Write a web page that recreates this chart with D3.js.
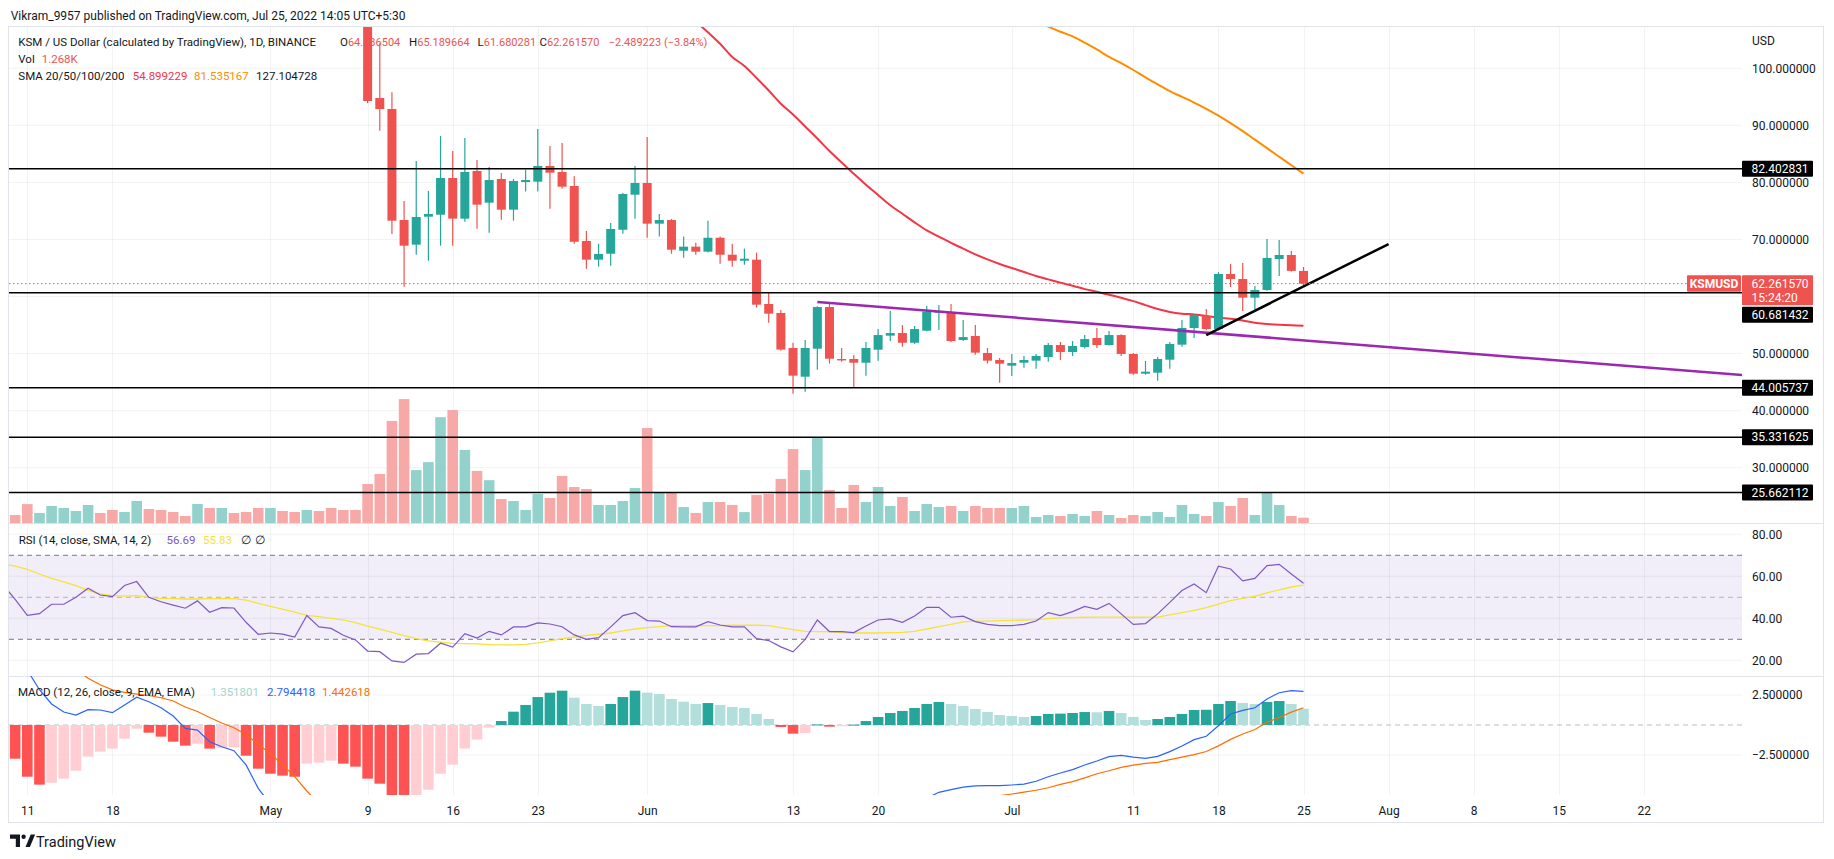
<!DOCTYPE html>
<html><head><meta charset="utf-8">
<script src="https://cdn.jsdelivr.net/npm/d3@7"></script>
<style>
html,body{margin:0;padding:0;background:#fff;}
svg{display:block;font-family:Roboto,"Liberation Sans",sans-serif;}
</style></head><body>
<svg id="c" width="1834" height="859"></svg>
<script>
// ---------------- DATA ----------------
const firstDay = "2022-04-09";           // first day of the indicator series
const volStart = "2022-04-10";           // first volume bar
const candleStart = "2022-05-09";        // first candle visible in the price pane
// direction of the (off-screen) candles Apr 10 - May 8, used for volume colours
const hiddenDir = ["d","d","u","u","u","u","u","d","d","u","u","d","d","d","d","u","d","u","d","d","d",
                   "u","d","d","u","d","d","d","d"];
const open = [110.0,94.79,92.87,73.41,69.09,73.99,74.34,80.77,73.65,82.0,76.45,80.6,75.22,80.07,80.13,82.88,81.83,79.37,69.73,66.46,67.5,71.7,77.85,
  79.9,72.77,73.41,68.03,68.74,67.86,70.3,67.33,66.28,66.46,58.69,57.12,50.98,45.95,50.86,58.16,49.05,49.05,48.4,50.68,53.14,53.6,51.9,54.01,57.17,57.29,52.38,53.08,50.1,48.88,
  47.88,48.4,48.76,49.4,51.5,50.28,51.15,52.73,51.5,53.25,49.93,46.48,46.65,48.93,51.56,54.48,56.59,54.31,63.95,63.07,59.8,61.15,66.58,67.28,64.486504];
const high = [111.0,104.4,95.8,76.74,83.75,78.5,88.14,85.5,87.78,83.93,82.7,81.65,80.6,82.2,89.36,86.38,86.9,81.1,71.49,69.26,72.9,78.15,82.88,
  87.96,74.47,73.6,70.5,69.44,73.3,70.5,69.26,68.4,67.7,60.67,57.64,51.91,52.38,58.3,58.92,50.98,49.75,52.03,54.3,57.47,55.01,54.84,58.34,58.52,58.69,55.9,55.0,50.98,49.23,
  49.93,49.58,49.93,51.86,52.03,52.2,53.25,54.48,53.96,53.4,50.1,48.7,49.4,52.03,55.9,56.94,57.82,64.3,65.7,65.88,61.85,70.1,69.9,67.98,65.189664];
const low = [93.87,89.06,70.96,61.73,67.33,66.28,68.91,68.91,73.12,71.89,71.19,73.47,73.3,78.4,78.4,75.4,78.9,69.26,64.88,65.23,65.4,71.0,73.64,
  70.3,70.5,67.5,66.8,67.33,67.7,65.76,65.23,65.58,58.04,55.42,50.5,42.97,43.33,47.18,48.23,48.58,44.15,46.13,48.76,52.2,51.2,51.7,53.9,54.14,52.0,52.2,49.8,48.23,44.9,
  46.07,47.53,47.35,48.58,48.88,49.58,50.9,50.98,51.4,49.58,46.3,46.3,45.25,47.35,51.2,52.73,54.1,54.1,61.67,57.47,57.64,61.0,63.6,64.4,61.680281];
const close = [94.27,92.86,73.29,68.91,73.94,74.47,80.77,73.65,81.83,76.1,80.42,75.22,80.25,80.42,82.88,81.7,79.25,69.6,66.46,67.46,71.84,77.97,79.9,
  72.77,73.41,68.21,68.74,67.86,70.3,67.33,66.28,66.63,58.57,57.0,50.7,46.13,50.98,58.16,49.1,48.8,48.4,50.98,53.25,53.6,51.9,54.3,57.34,57.47,52.2,52.9,50.16,48.76,48.23,
  48.35,48.88,49.58,51.5,50.28,51.33,52.55,51.5,53.25,49.93,46.48,46.83,49.05,51.68,54.48,56.76,54.31,63.95,63.07,59.8,61.15,66.76,67.28,64.49,62.261570];
// volume in thousands, from Apr 10
const volume = [1.9,4.5,2.4,4.05,3.57,2.86,4.29,2.38,3.1,2.62,5.24,3.33,3.1,2.62,1.67,4.52,3.57,3.57,2.38,2.62,3.57,
  3.57,2.86,2.62,3.1,2.86,3.57,3.1,3.1,9.29,11.67,24.3,29.5,12.6,14.5,25.2,26.9,17.4,12.4,10.2,5.7,5.24,3.1,6.9,5.95,11.2,8.57,8.1,4.29,4.29,5.24,8.33,
  22.6,7.14,7.14,3.8,2.4,5.0,5.0,4.3,2.6,6.7,6.9,10.5,17.6,12.6,20.3,7.86,3.57,9.05,5.0,8.57,4.05,6.2,2.86,4.52,3.8,4.05,2.86,4.05,3.57,3.57,
  3.57,4.05,1.43,1.9,1.67,2.14,1.67,2.86,1.9,1.19,1.9,1.67,2.62,1.43,4.29,2.14,1.67,5.0,4.05,5.95,1.9,7.14,4.29,1.67,1.268];
// SMA lines (only the part inside the pane)
const smaRedStart = "2022-06-04";
const smaRed = [110.0,108.2,106.3,104.3,102.0,100.4,98.3,96.1,93.8,91.9,89.8,87.7,85.5,83.5,81.5,79.6,77.8,76.0,74.5,73.0,71.6,70.5,69.4,68.4,67.4,66.5,65.7,
  65.0,64.3,63.6,63.0,62.4,61.9,61.3,60.85,60.3,59.8,59.2,58.5,57.8,57.3,57.0,56.85,56.6,56.3,56.1,55.8,55.4,55.2,55.05,54.95,54.899229];
const smaOrangeStart = "2022-07-01";
const smaOrange = [110.2,109.2,108.2,107.3,106.4,105.6,104.5,103.3,102.0,100.9,99.7,98.4,97.2,96.0,95.0,94.0,92.9,91.7,90.4,89.0,87.5,86.0,84.5,83.0,81.535167];
// RSI and its SMA, from Apr 9
const rsi = [56.0,49.0,41.4,42.2,46.7,46.7,50.0,54.3,51.1,50.3,55.6,57.5,50.0,47.9,46.3,44.8,48.3,42.9,45.1,44.9,38.1,32.4,
  33.0,32.5,31.1,41.3,35.9,35.2,31.9,29.7,24.4,24.1,19.7,19.0,22.9,23.2,28.1,26.3,32.7,30.6,33.8,32.1,35.9,35.9,37.8,37.3,36.0,32.1,30.0,30.8,35.9,41.3,42.7,
  38.9,38.7,36.0,35.9,35.9,38.4,36.8,35.9,35.9,30.3,29.4,26.4,24.0,30.0,39.2,33.7,33.7,33.2,36.3,39.2,39.7,38.1,41.1,45.2,45.2,40.5,41.0,38.4,37.1,36.5,
  36.5,37.1,38.7,42.7,41.3,43.2,45.7,44.3,47.1,42.1,37.1,37.5,42.1,47.6,53.2,56.3,52.2,64.8,63.5,57.8,59.0,65.1,65.7,61.1,56.69];
const rsiSma = [66.0,64.8,63.3,61.1,59.0,57.3,55.6,53.3,51.6,50.8,50.6,50.8,50.0,49.5,49.4,49.2,49.2,49.4,49.4,49.4,48.7,47.1,
  45.7,44.4,42.9,41.4,40.8,40.0,39.2,37.9,36.3,34.9,33.3,31.7,30.3,29.2,28.6,28.1,27.9,27.8,27.5,27.3,27.3,27.6,28.3,29.2,30.3,31.1,31.9,32.4,33.0,34.0,34.9,
  35.6,36.0,36.5,36.5,36.5,36.5,36.5,36.7,36.7,36.7,36.5,35.6,34.6,33.8,33.7,33.7,33.2,33.0,33.0,33.0,33.2,33.3,33.8,34.9,36.0,37.1,38.3,38.7,38.7,38.9,
  39.0,39.2,39.4,39.8,40.2,40.3,40.5,40.6,40.6,40.6,40.5,40.5,40.6,41.6,42.7,43.8,45.1,46.7,48.4,49.5,50.5,52.1,53.5,54.9,55.83];
// MACD histogram, from Apr 9
const macdHist = [-2.0,-2.81,-4.31,-4.97,-4.81,-4.47,-3.81,-2.64,-2.22,-1.97,-1.14,-0.31,-0.64,-0.97,-1.39,-1.72,-1.56,-1.97,-1.89,-1.87,-2.56,-3.64,
  -4.06,-4.22,-4.31,-3.22,-3.14,-2.97,-3.22,-3.47,-4.47,-4.89,-6.5,-7.0,-6.2,-5.39,-4.06,-3.31,-1.97,-1.22,-0.22,0.33,1.11,1.67,2.33,2.69,2.86,2.28,1.75,1.58,1.75,2.33,2.86,
  2.69,2.58,2.17,1.94,1.75,1.83,1.67,1.5,1.42,0.92,0.5,-0.17,-0.72,-0.67,0.05,-0.14,-0.10,0.03,0.33,0.67,1.0,1.17,1.42,1.75,1.92,1.75,1.58,1.33,1.08,0.83,
  0.75,0.67,0.75,0.92,0.95,1.0,1.08,1.06,1.17,1.0,0.67,0.42,0.5,0.67,0.92,1.25,1.27,1.75,2.0,1.83,1.75,1.92,2.0,1.75,1.351801];
// MACD and signal lines: only the stretches that pass through the pane
const macdA_start = "2022-04-09";
const macdA = [7.5,6.4,4.57,2.94,1.75,1.08,0.83,1.28,1.25,1.03,1.67,2.31,1.94,1.44,0.75,-0.28,-0.42,-1.39,-1.81,-2.14,-3.33,-5.28,-6.6];
const macdB_start = "2022-06-24";
const macdB = [-6.1,-5.61,-5.39,-5.17,-5.08,-5.06,-5.06,
  -5.0,-4.92,-4.69,-4.31,-4.0,-3.72,-3.33,-3.0,-2.64,-2.53,-2.67,-2.78,-2.61,-2.22,-1.75,-1.22,-0.94,-0.06,0.92,1.22,1.44,2.17,2.69,2.86,2.794418];
const signalA_start = "2022-04-09";
const signalA = [9.5,9.2,8.88,7.91,6.56,5.55,4.64,3.9,3.35,2.93,2.72,2.58,2.46,2.27,2.0,1.5,1.12,0.62,0.17,-0.23,-0.8,-1.6,
  -2.39,-3.3,-4.3,-5.5,-6.6];
const signalB_start = "2022-06-29";
const signalB = [-6.05,-5.89,
  -5.75,-5.59,-5.44,-5.23,-4.95,-4.72,-4.41,-4.06,-3.81,-3.53,-3.34,-3.2,-3.11,-2.89,-2.67,-2.47,-2.21,-1.74,-1.2,-0.75,-0.37,0.23,0.63,1.07,1.442618];
// drawings
const levels = [82.402831, 60.681432, 44.005737, 35.331625, 25.662112];
const purpleLine = [["2022-06-15", 59.04], ["2022-08-31", 46.1]];
const blackLine = [["2022-07-17", 53.25], ["2022-08-01", 69.2]];
// ticks
const priceTicks = [30,40,50,60,70,80,90,100];
const rsiTicks = [20,40,60,80];
const rsiBands = [70,50,30];
const macdTicks = [-2.5, 2.5];
const timeTicks = [["2022-04-11","11"],["2022-04-18","18"],["2022-05-01","May"],["2022-05-09","9"],["2022-05-16","16"],["2022-05-23","23"],
  ["2022-06-01","Jun"],["2022-06-13","13"],["2022-06-20","20"],["2022-07-01","Jul"],["2022-07-11","11"],["2022-07-18","18"],["2022-07-25","25"],
  ["2022-08-01","Aug"],["2022-08-08","8"],["2022-08-15","15"],["2022-08-22","22"]];
const lastTime = "15:24:20";

// ---------------- LAYOUT ----------------
const TXT = "#131722", UP = "#26a69a", DN = "#ef5350";
const L = 9, R = 1742, FR = 1823.5;
const main = [27, 523], rsiP = [523, 676], macdP = [676, 795];
const S = d3.utcParse("%Y-%m-%d");
const dayAt = (s, i) => d3.utcDay.offset(S(s), i);

const svg = d3.select("#c");
const x = d3.scaleUtc().domain([S("2022-04-10"), S("2022-07-25")]).range([15.15, 1303.5]);
const yP = d3.scaleLinear().domain([30, 100]).range([467.7, 68.3]);
const yV = d3.scaleLinear().domain([0, 30]).range([523, 397]);
const yR = d3.scaleLinear().domain([20, 80]).range([660.3, 534.3]);
const yM = d3.scaleLinear().domain([-2.5, 2.5]).range([755, 695]);

const defs = svg.append("defs");
function clip(id, y0, y1) {
  defs.append("clipPath").attr("id", id).append("rect").attr("x", L).attr("y", y0).attr("width", R - L).attr("height", y1 - y0);
  return "url(#" + id + ")";
}
const cMain = clip("cm", main[0], main[1]), cRsi = clip("cr", rsiP[0], rsiP[1]), cMacd = clip("cd", macdP[0], macdP[1]);

// frame
svg.append("rect").attr("x", 8.5).attr("y", 26.5).attr("width", FR - 8.5).attr("height", 796).attr("fill", "none").attr("stroke", "#e0e3eb");

// RSI band
svg.append("rect").attr("x", L).attr("width", R - L).attr("y", yR(70)).attr("height", yR(30) - yR(70)).attr("fill", "rgba(126,87,194,0.1)");

// grid
const grid = svg.append("g").attr("stroke", "rgba(42,46,57,0.06)").attr("stroke-width", 1);
timeTicks.forEach(([d]) => {
  const xx = Math.round(x(S(d))) + 0.5;
  grid.append("line").attr("x1", xx).attr("x2", xx).attr("y1", main[0]).attr("y2", macdP[1]);
});
priceTicks.forEach(v => grid.append("line").attr("x1", L).attr("x2", R).attr("y1", yP(v)).attr("y2", yP(v)));
rsiTicks.forEach(v => grid.append("line").attr("x1", L).attr("x2", R).attr("y1", yR(v)).attr("y2", yR(v)));
macdTicks.forEach(v => grid.append("line").attr("x1", L).attr("x2", R).attr("y1", yM(v)).attr("y2", yM(v)));

// pane separators
[rsiP[0], macdP[0]].forEach(y => svg.append("line").attr("x1", L).attr("x2", FR).attr("y1", y + 0.5).attr("y2", y + 0.5).attr("stroke", "#e0e3eb"));

// RSI dashed bands
rsiBands.forEach(v => svg.append("line").attr("x1", L).attr("x2", R).attr("y1", yR(v)).attr("y2", yR(v))
  .attr("stroke", "#787b86").attr("stroke-opacity", v === 50 ? 0.5 : 1).attr("stroke-dasharray", "5,4"));
// MACD zero line
svg.append("line").attr("x1", L).attr("x2", R).attr("y1", yM(0)).attr("y2", yM(0))
  .attr("stroke", "#787b86").attr("stroke-opacity", 0.5).attr("stroke-dasharray", "5,4");

// title and legend
svg.append("text").attr("x", 10.7).attr("y", 19.5).attr("font-size", 12).attr("fill", TXT)
  .text("Vikram_9957 published on TradingView.com, Jul 25, 2022 14:05 UTC+5:30");
const lastI = close.length - 1;
const leg1 = svg.append("text").attr("y", 46).attr("font-size", 11.5).attr("fill", TXT);
leg1.append("tspan").attr("x", 18.3).text("KSM / US Dollar (calculated by TradingView), 1D, BINANCE");
[["O", open[lastI], 340], ["H", high[lastI], 409], ["L", low[lastI], 477.5], ["C", close[lastI], 539.5]].forEach(([k, v, xx]) => {
  leg1.append("tspan").attr("x", xx).text(k);
  leg1.append("tspan").attr("fill", DN).attr("font-size", 11).text(v.toFixed(6));
});
leg1.append("tspan").attr("x", 608.7).attr("fill", DN).attr("font-size", 11).text("−2.489223 (−3.84%)");
const leg2 = svg.append("text").attr("y", 63.3).attr("font-size", 11.5).attr("fill", TXT);
leg2.append("tspan").attr("x", 18.3).text("Vol");
leg2.append("tspan").attr("x", 41.7).attr("fill", DN).text(volume[volume.length - 1].toFixed(3) + "K");
const leg3 = svg.append("text").attr("y", 80.3).attr("font-size", 11.5).attr("fill", TXT);
leg3.append("tspan").attr("x", 18.3).text("SMA 20/50/100/200");
leg3.append("tspan").attr("x", 132.7).attr("fill", "#f23645").text(smaRed[smaRed.length - 1].toFixed(6));
leg3.append("tspan").attr("x", 194).attr("fill", "#ff8c00").text(smaOrange[smaOrange.length - 1].toFixed(6));
leg3.append("tspan").attr("x", 256).text("127.104728");

// ---------------- MAIN PANE ----------------
const gm = svg.append("g").attr("clip-path", cMain);
const candles = open.map((o, i) => ({ date: dayAt(candleStart, i), o, h: high[i], l: low[i], c: close[i] }));
const vols = volume.map((v, i) => {
  const up = i < hiddenDir.length ? hiddenDir[i] === "u" : candles[i - hiddenDir.length].c >= candles[i - hiddenDir.length].o;
  return { date: dayAt(volStart, i), v, up };
});
gm.selectAll("rect.vol").data(vols).join("rect").attr("class", "vol")
  .attr("x", d => x(d.date) - 5.3).attr("width", 10.6)
  .attr("y", d => yV(d.v)).attr("height", d => yV(0) - yV(d.v))
  .attr("fill", d => d.up ? "#93d2cc" : "#f7a9a8");

const smaLine = d3.line().x(d => x(d.date)).y(d => yP(d.v)).curve(d3.curveMonotoneX);
gm.append("path").datum(smaRed.map((v, i) => ({ date: dayAt(smaRedStart, i), v })))
  .attr("d", smaLine).attr("fill", "none").attr("stroke", "#f23645").attr("stroke-width", 2);
gm.append("path").datum(smaOrange.map((v, i) => ({ date: dayAt(smaOrangeStart, i), v })))
  .attr("d", smaLine).attr("fill", "none").attr("stroke", "#ff8c00").attr("stroke-width", 2);

const cg = gm.selectAll("g.cd").data(candles).join("g").attr("class", "cd");
cg.append("line").attr("x1", d => x(d.date)).attr("x2", d => x(d.date)).attr("y1", d => yP(d.h)).attr("y2", d => yP(d.l))
  .attr("stroke", d => d.c >= d.o ? UP : DN).attr("stroke-width", 1.2);
cg.append("rect").attr("x", d => x(d.date) - 4.5).attr("width", 9)
  .attr("y", d => yP(Math.max(d.o, d.c))).attr("height", d => Math.max(1, Math.abs(yP(d.o) - yP(d.c))))
  .attr("fill", d => d.c >= d.o ? UP : DN);

levels.forEach(v => gm.append("line").attr("x1", L).attr("x2", R).attr("y1", yP(v)).attr("y2", yP(v)).attr("stroke", "#000").attr("stroke-width", 1.5));
const tl = d3.line().x(d => x(S(d[0]))).y(d => yP(d[1]));
gm.append("path").datum(purpleLine).attr("d", tl).attr("stroke", "#9c27b0").attr("stroke-width", 2.5).attr("fill", "none");
gm.append("path").datum(blackLine).attr("d", tl).attr("stroke", "#000").attr("stroke-width", 2.5).attr("fill", "none");

const pY = yP(close[lastI]);
svg.append("line").attr("x1", L).attr("x2", 1687).attr("y1", pY).attr("y2", pY).attr("stroke", DN).attr("stroke-dasharray", "1.5,2.5");

// ---------------- RSI ----------------
const gr = svg.append("g").attr("clip-path", cRsi);
const ln = (ys) => d3.line().defined(d => d.v != null).x(d => x(d.date)).y(d => ys(d.v));
gr.append("path").datum(rsiSma.map((v, i) => ({ date: dayAt(firstDay, i), v }))).attr("d", ln(yR)).attr("fill", "none").attr("stroke", "#f5e23a").attr("stroke-width", 1.3);
gr.append("path").datum(rsi.map((v, i) => ({ date: dayAt(firstDay, i), v }))).attr("d", ln(yR)).attr("fill", "none").attr("stroke", "#7e57c2").attr("stroke-width", 1.2);
const rh = svg.append("text").attr("y", 543.6).attr("font-size", 11.5).attr("fill", TXT);
rh.append("tspan").attr("x", 18.7).text("RSI (14, close, SMA, 14, 2)");
rh.append("tspan").attr("x", 166.5).attr("fill", "#7e57c2").text(rsi[rsi.length - 1].toFixed(2));
rh.append("tspan").attr("x", 203).attr("fill", "#f5e23a").text(rsiSma[rsiSma.length - 1].toFixed(2));
rh.append("tspan").attr("x", 241).text("∅");
rh.append("tspan").attr("x", 255.4).text("∅");

// ---------------- MACD ----------------
const gd = svg.append("g").attr("clip-path", cMacd);
const hist = macdHist.map((v, i) => {
  const p = i > 0 ? macdHist[i - 1] : v;
  const col = v >= 0 ? (v > p ? "#26a69a" : "#b2dfdb") : (v > p ? "#ffcdd2" : "#ff5252");
  return { date: dayAt(firstDay, i), v, col };
});
gd.selectAll("rect.h").data(hist).join("rect").attr("class", "h")
  .attr("x", d => x(d.date) - 5.3).attr("width", 10.6)
  .attr("y", d => Math.min(yM(0), yM(d.v))).attr("height", d => Math.max(1, Math.abs(yM(d.v) - yM(0))))
  .attr("fill", d => d.col);
[[macdA, macdA_start, "#2962ff"], [macdB, macdB_start, "#2962ff"], [signalA, signalA_start, "#ff6d00"], [signalB, signalB_start, "#ff6d00"]]
  .forEach(([arr, st, col]) => gd.append("path").datum(arr.map((v, i) => ({ date: dayAt(st, i), v }))).attr("d", ln(yM))
    .attr("fill", "none").attr("stroke", col).attr("stroke-width", 1.2));
const mh = svg.append("text").attr("y", 696).attr("font-size", 11.5).attr("fill", TXT);
mh.append("tspan").attr("x", 17.9).text("MACD (12, 26, close, 9, EMA, EMA)");
mh.append("tspan").attr("x", 210.7).attr("fill", "#9fd6d0").text(macdHist[macdHist.length - 1].toFixed(6));
mh.append("tspan").attr("x", 267).attr("fill", "#2962ff").text(macdB[macdB.length - 1].toFixed(6));
mh.append("tspan").attr("x", 322).attr("fill", "#ff6d00").text(signalB[signalB.length - 1].toFixed(6));

// ---------------- AXES ----------------
function styleAxis(g) {
  g.select(".domain").remove();
  g.selectAll("text").attr("font-size", 12).attr("fill", TXT).attr("font-family", "Roboto, 'Liberation Sans', sans-serif");
}
const pTop = pY - 8.3, pBot = pTop + 30;
// price tick labels hidden behind the price / level boxes are not drawn (as in the reference)
const boxTops = [];
levels.forEach(v => {
  let top = yP(v) - 8;
  if (top + 16 > pTop && top < pBot) top = pBot + 1.4;
  boxTops.push(top);
});
const visiblePriceTicks = priceTicks.filter(v => {
  const yy = yP(v);
  if (yy > pTop - 3 && yy < pBot + 3) return false;
  return !boxTops.some(t => yy > t + 2 && yy < t + 14);
});
svg.append("g").attr("transform", "translate(1752,0)")
  .call(d3.axisRight(yP).tickValues(visiblePriceTicks).tickFormat(d => d.toFixed(6)).tickSize(0).tickPadding(0)).call(styleAxis);
svg.append("g").attr("transform", "translate(1752,0)")
  .call(d3.axisRight(yR).tickValues(rsiTicks).tickFormat(d => d.toFixed(2)).tickSize(0).tickPadding(0)).call(styleAxis);
svg.append("g").attr("transform", "translate(1752,0)")
  .call(d3.axisRight(yM).tickValues(macdTicks).tickFormat(d => (d < 0 ? "−" : "") + Math.abs(d).toFixed(6)).tickSize(0).tickPadding(0)).call(styleAxis);
const tMap = new Map(timeTicks.map(([d, l]) => [+S(d), l]));
svg.append("g").attr("transform", "translate(0,806)")
  .call(d3.axisBottom(x).tickValues(timeTicks.map(t => S(t[0]))).tickFormat(d => tMap.get(+d)).tickSize(0).tickPadding(0)).call(styleAxis);
svg.append("text").attr("x", 1752).attr("y", 45).attr("font-size", 12).attr("fill", TXT).text("USD");

// price label boxes
levels.forEach((v, i) => {
  const top = boxTops[i];
  svg.append("rect").attr("x", 1742).attr("y", top).attr("width", 71).attr("height", 16).attr("fill", "#000").attr("rx", 1);
  svg.append("text").attr("x", 1751.5).attr("y", top + 12.2).attr("font-size", 12).attr("fill", "#fff").text(v.toFixed(6));
});
svg.append("rect").attr("x", 1742).attr("y", pTop).attr("width", 71).attr("height", 30).attr("fill", DN).attr("rx", 1);
svg.append("text").attr("x", 1751.5).attr("y", pTop + 12.4).attr("font-size", 12).attr("fill", "#fff").text(close[lastI].toFixed(6));
svg.append("text").attr("x", 1751.5).attr("y", pTop + 26.4).attr("font-size", 12).attr("fill", "#fff").text(lastTime);
svg.append("rect").attr("x", 1687).attr("y", pTop).attr("width", 54).attr("height", 16.4).attr("fill", DN).attr("rx", 1);
svg.append("text").attr("x", 1714).attr("y", pTop + 12.4).attr("font-size", 12).attr("font-weight", "bold").attr("text-anchor", "middle").attr("fill", "#fff").text("KSMUSD");

// TradingView logo
const lg = svg.append("g").attr("fill", TXT);
lg.append("path").attr("d", "M10,834.5 h10 v12.5 h-4.2 v-8.3 h-5.8 z");
lg.append("circle").attr("cx", 23.6).attr("cy", 836.8).attr("r", 2.2);
lg.append("path").attr("d", "M25.5,847 l5.2,-12.5 h4.4 l-5.2,12.5 z");
svg.append("text").attr("x", 36).attr("y", 846.5).attr("font-size", 14.5).attr("fill", TXT).text("TradingView");
</script></body></html>
